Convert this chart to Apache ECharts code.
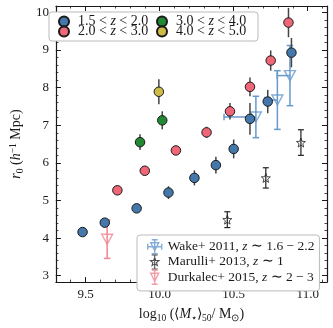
<!DOCTYPE html>
<html><head><meta charset="utf-8">
<script src="https://cdn.jsdelivr.net/npm/echarts@6/dist/echarts.min.js"></script>
<style>html,body{margin:0;padding:0;background:#fff}#c{width:333px;height:328px}</style>
</head><body><div id="c"></div>
<script>
// ---------- data ----------
const blueX = [9.48, 9.63, 9.845, 10.06, 10.235, 10.38, 10.50, 10.61, 10.73, 10.89];
const blueY = [4.16, 4.41, 4.79, 5.21, 5.60, 5.94, 6.37, 7.17, 7.63, 8.93];
const blueE = [0.05, 0.05, 0.06, 0.17, 0.2, 0.22, 0.25, 0.42, 0.31, 0.39];

const pinkX = [9.715, 9.90, 10.11, 10.317, 10.475, 10.61, 10.75, 10.87];
const pinkY = [5.27, 5.79, 6.33, 6.81, 7.37, 8.02, 8.72, 9.73];
const pinkE = [0.05, 0.06, 0.1, 0.15, 0.22, 0.25, 0.27, 0.39];

const greenX = [9.868, 10.018];
const greenY = [6.55, 7.13];
const greenE = [0.21, 0.24];

const yellowX = [9.995];
const yellowY = [7.89];
const yellowE = [0.33];

const wakeX = [10.65, 10.795, 10.88];
const wakeY = [7.22, 7.67, 8.32];
const wakeYE = [0.55, 0.78, 0.80];
const wakeXE = [0.215, 0.086, 0.086];

const marX = [10.457, 10.717, 10.954];
const marY = [4.49, 5.60, 6.54];
const marE = [0.21, 0.27, 0.34];

const durX = [9.646];
const durY = [3.97];
const durE = [0.51];

const zNames = ['1.5 < z < 2.0', '2.0 < z < 3.0', '3.0 < z < 4.0', '4.0 < z < 5.0'];
const litNames = ['Wake+ 2011, z \u223c 1.6 \u2212 2.2', 'Marulli+ 2013, z \u223c 1', 'Durkalec+ 2015, z \u223c 2 \u2212 3'];

const xTicks = [9.5, 10.0, 10.5, 11.0];
const yTicks = [3, 4, 5, 6, 7, 8, 9, 10];
const xMin = 9.3, xMax = 11.13, yMin = 2.83, yMax = 10.17;

// ---------- styling ----------
const FONT = 'Liberation Serif';
const INK = '#1a1a1a';
const cBlue = '#4477AA', cPink = '#EE6677', cGreen = '#228833', cYellow = '#CCBB44';
const cWake = '#6699CC', cDur = '#F08592', cMar = '#222222';

const xMinor = [], yMinor = [];
for (let i = 93; i <= 111; i++) xMinor.push(i / 10);
for (let i = 15; i <= 50; i++) yMinor.push(i / 5);

const starPath = 'path://M0,-10 L2.47,-3.4 L9.51,-3.09 L3.99,1.3 L5.88,8.09 L0,4.2 L-5.88,8.09 L-3.99,1.3 L-9.51,-3.09 L-2.47,-3.4 Z';
const iconWake = 'path://M8,0 L8,14 M5,0 L11,0 M5,14 L11,14 M1,7 L15,7 M1,4 L1,10 M15,4 L15,10 M4,3 L12,3 L8,11 Z';
const iconMar = 'path://M8,0 L8,14 M5,0 L11,0 M5,14 L11,14 M8,2.5 L9.12,5.46 L12.28,5.61 L9.81,7.59 L10.65,10.64 L8,8.9 L5.35,10.64 L6.19,7.59 L3.72,5.61 L6.88,5.46 Z';
const iconDur = 'path://M8,0 L8,14 M5,0 L11,0 M5,14 L11,14 M4,3 L12,3 L8,11 Z';

function zip3(a, b, c, d) { return a.map((v, i) => d ? [v, b[i], c[i], d[i]] : [v, b[i], c[i]]); }

function errRender(color, width, cap, withX) {
  return function (params, api) {
    const x = api.value(0), y = api.value(1), e = api.value(2);
    const p0 = api.coord([x, y - e]), p1 = api.coord([x, y + e]);
    const st = { stroke: color, lineWidth: width };
    const ch = [{ type: 'line', shape: { x1: p0[0], y1: p0[1], x2: p1[0], y2: p1[1] }, style: st }];
    if (cap) {
      ch.push({ type: 'line', shape: { x1: p0[0] - cap, y1: p0[1], x2: p0[0] + cap, y2: p0[1] }, style: st });
      ch.push({ type: 'line', shape: { x1: p1[0] - cap, y1: p1[1], x2: p1[0] + cap, y2: p1[1] }, style: st });
    }
    if (withX) {
      const xe = api.value(3);
      const q0 = api.coord([x - xe, y]), q1 = api.coord([x, y]);
      ch.push({ type: 'line', shape: { x1: q0[0], y1: q0[1], x2: q1[0], y2: q1[1] }, style: st });
      ch.push({ type: 'line', shape: { x1: q0[0], y1: q0[1] - cap, x2: q0[0], y2: q0[1] + cap }, style: st });
    }
    return { type: 'group', children: ch };
  };
}

function errSeries(data, color, width, cap, withX, z) {
  return { type: 'custom', silent: true, z: z, data: data, encode: { x: 0, y: 1 },
    renderItem: errRender(color, width, cap, withX) };
}
function circ(name, xs, ys, color) {
  return { type: 'scatter', name: name, z: 5, data: xs.map((v, i) => [v, ys[i]]), symbol: 'circle', symbolSize: 9.5,
    itemStyle: { color: color, borderColor: INK, borderWidth: 1, opacity: 1 } };
}

const axisLine = { show: true, onZero: false, lineStyle: { color: INK, width: 1.2 } };
const lbl = { fontFamily: FONT, fontSize: 13, color: INK };
const richName = {
  n: { fontFamily: FONT, fontSize: 14, color: INK, lineHeight: 16 },
  i: { fontFamily: FONT, fontSize: 14, fontStyle: 'italic', color: INK, lineHeight: 16 },
  sub: { fontFamily: FONT, fontSize: 9.5, color: INK, lineHeight: 9, padding: [7, 0, 0, 0], verticalAlign: 'top' },
  sup: { fontFamily: FONT, fontSize: 9.5, color: INK, lineHeight: 9, padding: [0, 0, 7, 0], verticalAlign: 'top' }
};

function mkX(pos, major, minor, label) {
  return {
    type: 'value', position: pos, min: xMin, max: xMax, gridIndex: 0,
    axisLine: major ? axisLine : { show: false },
    splitLine: { show: false },
    axisTick: { show: true, inside: true, length: major ? 5 : 2.5, customValues: major ? xTicks : xMinor, lineStyle: { color: INK, width: major ? 1 : 0.8 } },
    axisLabel: label ? Object.assign({ show: true, margin: 6, customValues: xTicks, formatter: v => v.toFixed(1) }, lbl) : { show: false }
  };
}
function mkY(pos, major, minor, label) {
  return {
    type: 'value', position: pos, min: yMin, max: yMax, gridIndex: 0,
    axisLine: major ? axisLine : { show: false },
    splitLine: { show: false },
    axisTick: { show: true, inside: true, length: major ? 5 : 2.5, customValues: major ? yTicks : yMinor, lineStyle: { color: INK, width: major ? 1 : 0.8 } },
    axisLabel: label ? Object.assign({ show: true, margin: 7, customValues: yTicks, formatter: v => String(Math.round(v)) }, lbl) : { show: false }
  };
}

const xAxes = [mkX('bottom', true, false, true), mkX('top', true, false, false), mkX('bottom', false, true, false), mkX('top', false, true, false)];
xAxes[0].name = '{n|log}{sub|10}{n| (\u27E8}{i|M}{sub|\u22C6}{n|\u27E9}{sub|50}{n|/ M}{sub|\u2299}{n|)}';
xAxes[0].nameLocation = 'middle';
xAxes[0].nameGap = 21;
xAxes[0].nameTextStyle = { rich: richName };
const yAxes = [mkY('left', true, false, true), mkY('right', true, false, false), mkY('left', false, true, false), mkY('right', false, true, false)];
yAxes[0].name = '{i|r}{sub|0}{n| (}{i|h}{sup|\u22121}{n| Mpc)}';
yAxes[0].nameLocation = 'middle';
yAxes[0].nameGap = 24;
yAxes[0].nameTextStyle = { rich: richName };

const legendText = { fontFamily: FONT, fontSize: 14, color: INK, lineHeight: 11,
  rich: { i: { fontFamily: FONT, fontSize: 14, fontStyle: 'italic', color: INK, lineHeight: 11 } } };
const fmt = name => name.replace(' z ', ' {i|z} ');

const option = {
  animation: false,
  backgroundColor: '#fff',
  grid: { left: 43, right: 6, top: 6, bottom: 37, containLabel: false },
  xAxis: xAxes,
  yAxis: yAxes,
  legend: [
    {
      orient: 'horizontal', left: 49, top: 12, width: 206, padding: [2.5, 0, 2.5, 9],
      itemWidth: 18, itemHeight: 10, itemGap: -4, selectedMode: false,
      backgroundColor: '#fff', borderColor: '#bbbbbb', borderWidth: 1, borderRadius: 3,
      data: [zNames[0], zNames[2], zNames[1], zNames[3]].map(n => ({ name: n, icon: 'circle' })),
      formatter: fmt,
      textStyle: Object.assign({ width: 82 }, legendText)
    },
    {
      orient: 'vertical', left: 137, top: 235, padding: [4, 5, 6, 10],
      itemWidth: 16, itemHeight: 14, itemGap: 0, selectedMode: false,
      backgroundColor: '#fff', borderColor: '#bbbbbb', borderWidth: 1, borderRadius: 3,
      data: [
        { name: litNames[0], icon: iconWake, itemStyle: { color: 'rgba(0,0,0,0)', borderColor: cWake, borderWidth: 1.4 } },
        { name: litNames[1], icon: iconMar, itemStyle: { color: 'rgba(0,0,0,0)', borderColor: cMar, borderWidth: 1.1 } },
        { name: litNames[2], icon: iconDur, itemStyle: { color: 'rgba(0,0,0,0)', borderColor: cDur, borderWidth: 1.4 } }
      ],
      formatter: fmt,
      textStyle: { fontFamily: FONT, fontSize: 13.5, color: INK, lineHeight: 14,
        rich: { i: { fontFamily: FONT, fontSize: 13.5, fontStyle: 'italic', color: INK, lineHeight: 14 } } }
    }
  ],
  series: [
    errSeries(zip3(wakeX, wakeY, wakeYE, wakeXE), cWake, 1.5, 3.3, true, 1),
    errSeries(zip3(marX, marY, marE), cMar, 1.2, 3, false, 2),
    errSeries(zip3(durX, durY, durE), cDur, 1.5, 3.3, false, 2),
    errSeries(zip3(blueX, blueY, blueE), '#444', 1.5, 0, false, 3),
    errSeries(zip3(pinkX, pinkY, pinkE), '#444', 1.5, 0, false, 3),
    errSeries(zip3(greenX, greenY, greenE), '#444', 1.5, 0, false, 3),
    errSeries(zip3(yellowX, yellowY, yellowE), '#444', 1.5, 0, false, 3),
    { type: 'scatter', name: litNames[0], z: 2, data: wakeX.map((v, i) => [v, wakeY[i]]), symbol: 'triangle', symbolRotate: 180, symbolSize: [11, 10],
      itemStyle: { color: 'rgba(255,255,255,0)', borderColor: cWake, borderWidth: 1.4 } },
    { type: 'scatter', name: litNames[1], z: 4, data: marX.map((v, i) => [v, marY[i]]), symbol: starPath, symbolSize: 9,
      itemStyle: { color: 'rgba(255,255,255,0)', borderColor: cMar, borderWidth: 1 } },
    { type: 'scatter', name: litNames[2], z: 4, data: durX.map((v, i) => [v, durY[i]]), symbol: 'triangle', symbolRotate: 180, symbolSize: [11, 10],
      itemStyle: { color: 'rgba(255,255,255,0)', borderColor: cDur, borderWidth: 1.4 } },
    circ(zNames[0], blueX, blueY, cBlue),
    circ(zNames[1], pinkX, pinkY, cPink),
    circ(zNames[2], greenX, greenY, cGreen),
    circ(zNames[3], yellowX, yellowY, cYellow)
  ]
};
const chart = echarts.init(document.getElementById('c'));
chart.setOption(option);
</script>
</body></html>
